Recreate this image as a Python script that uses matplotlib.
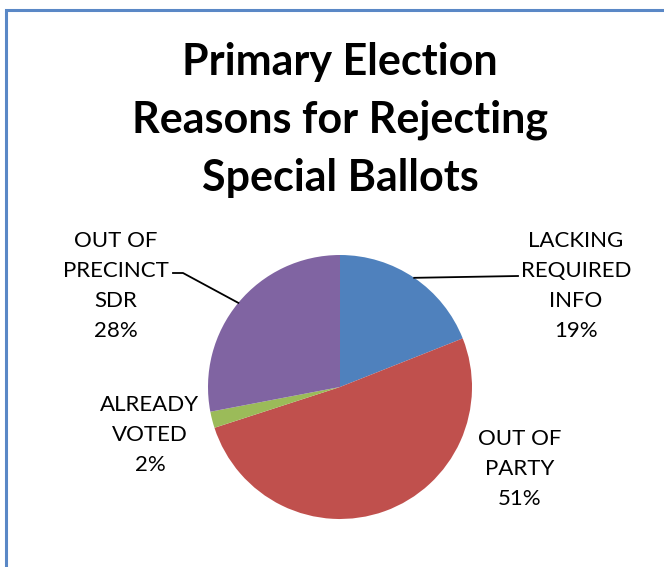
import numpy as np
import matplotlib.pyplot as plt
from matplotlib.patches import Rectangle

plt.rcParams['font.family'] = ['Lato', 'DejaVu Sans']

# Reasons for rejecting special ballots (share of total, %)
reasons = ['LACKING\nREQUIRED\nINFO', 'OUT OF\nPARTY', 'ALREADY\nVOTED', 'OUT OF\nPRECINCT\nSDR']
shares = [19, 51, 2, 28]
colors = ['#4F81BD', '#C0504D', '#9BBB59', '#8064A2']

W, H = 664, 567
fig = plt.figure(figsize=(W / 100, H / 100), dpi=100)
ax = fig.add_axes([0, 0, 1, 1])

# chart frame, left/top edges visible
fig.patches.append(Rectangle((6 / W, -0.05), 1.2, (H - 10) / H + 0.05,
                             transform=fig.transFigure, fill=False,
                             edgecolor='#5A88C6', linewidth=2.2))

cx, cy, r = 340, H - 387, 132
wedges, _ = ax.pie(shares, colors=colors, startangle=90, counterclock=False,
                   center=(cx, cy), radius=r, frame=True,
                   wedgeprops=dict(linewidth=0))
ax.set_xlim(0, W)
ax.set_ylim(0, H)
ax.set_aspect('equal')
ax.axis('off')

ax.text(340, H - 120, 'Primary Election\nReasons for Rejecting\nSpecial Ballots',
        ha='center', va='center', fontsize=31, fontweight='bold',
        linespacing=1.55)

# label positions (centre of each text block) and leader line ends
label_pos = [(576, H - 286), (520, H - 469), (150, H - 435), (116, H - 286)]
leaders = {0: [(518, H - 276)], 3: [(183, H - 273), (173, H - 273)]}

for i, (w, name, val) in enumerate(zip(wedges, reasons, shares)):
    x, y = label_pos[i]
    ax.text(x, y, f'{name}\n{val}%', ha='center', va='center',
            fontsize=16, linespacing=1.62, color='black')
    if i in leaders:
        mid = np.deg2rad((w.theta1 + w.theta2) / 2)
        pts = [(cx + r * np.cos(mid), cy + r * np.sin(mid))] + leaders[i]
        xs, ys = zip(*pts)
        ax.plot(xs, ys, color='black', linewidth=1.3)

fig.savefig('out.png', dpi=100)
